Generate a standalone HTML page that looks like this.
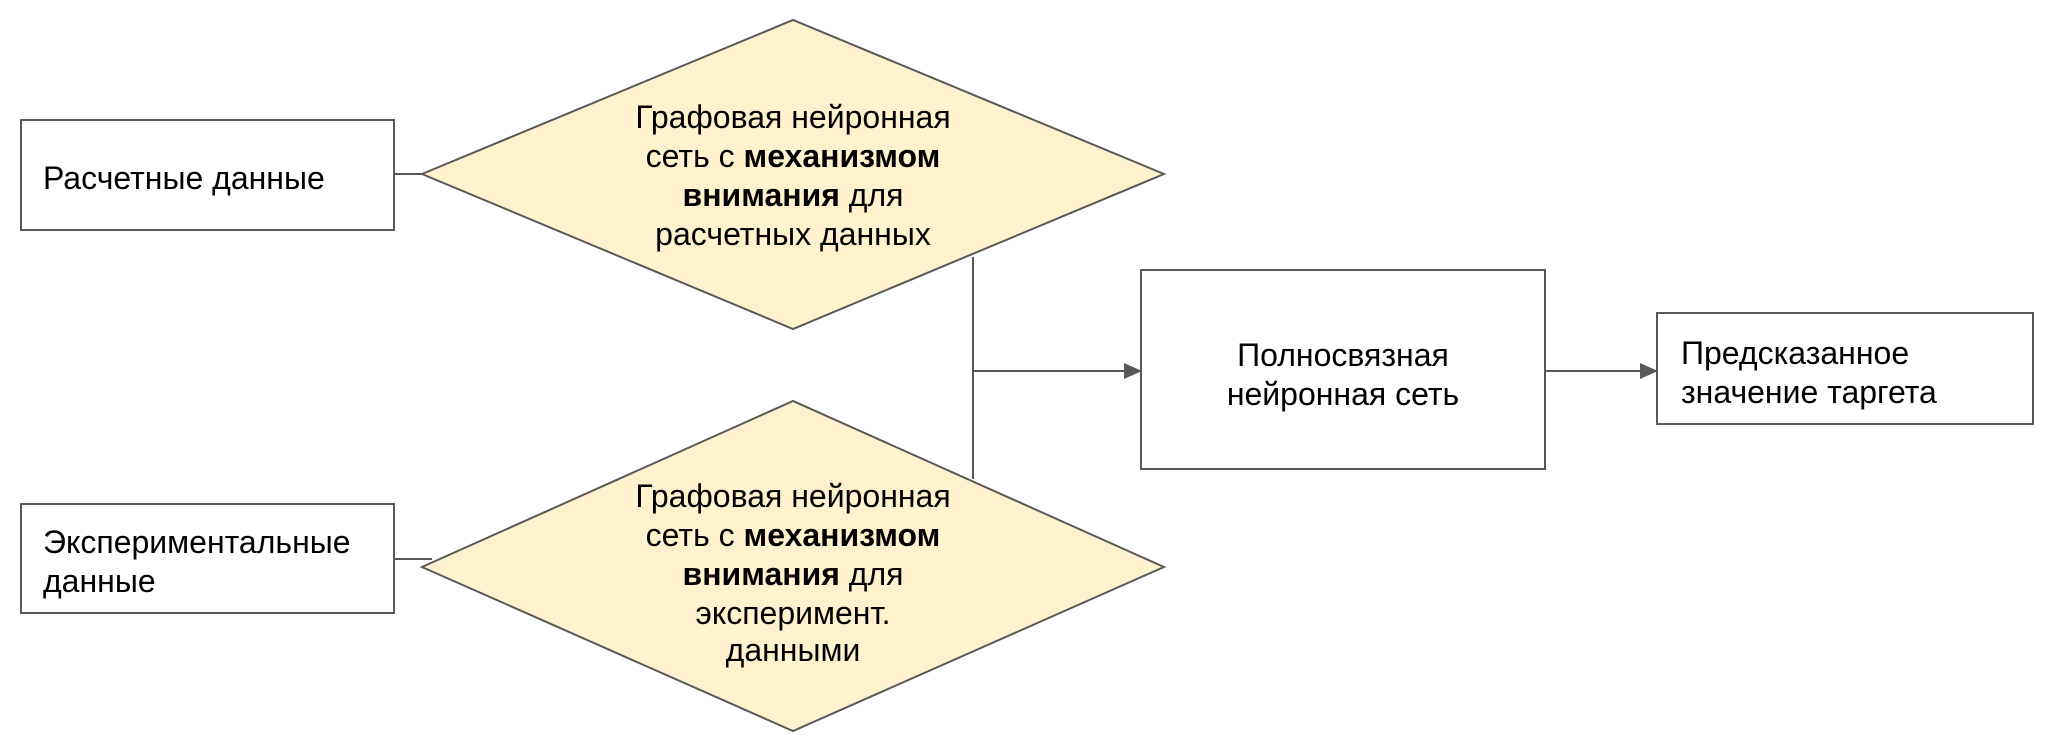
<!DOCTYPE html>
<html><head><meta charset="utf-8"><style>
html,body{margin:0;padding:0;background:#fff;}
svg{display:block;}
text{font-family:"Liberation Sans",Arial,sans-serif;font-size:32px;fill:#000;}
.b{font-weight:bold;}
</style></head><body>
<svg width="2048" height="751" viewBox="0 0 2048 751" xmlns="http://www.w3.org/2000/svg">
<defs>
<marker id="a2" markerWidth="18" markerHeight="16" refX="17" refY="8" orient="auto" markerUnits="userSpaceOnUse"><path d="M0,0 L18,8 L0,16 z" fill="#595959"/></marker></defs>
<g stroke="#595959" stroke-width="2" fill="none">
<line x1="394" y1="174" x2="422" y2="174"/>
<line x1="394" y1="559" x2="432" y2="559"/>
<line x1="973" y1="257" x2="973" y2="479"/>
<line x1="973" y1="371" x2="1141" y2="371" marker-end="url(#a2)"/>
<line x1="1545" y1="371" x2="1657" y2="371" marker-end="url(#a2)"/>
</g>
<g stroke="#595959" stroke-width="2">
<rect x="21" y="120" width="373" height="110" fill="#fff"/>
<rect x="21" y="504" width="373" height="109" fill="#fff"/>
<polygon points="422,174 793,20 1164,174 793,329" fill="#fff2cc"/>
<polygon points="422,567 793,401 1164,567 793,731" fill="#fff2cc"/>
<rect x="1141" y="270" width="404" height="199" fill="#fff"/>
<rect x="1657" y="313" width="376" height="111" fill="#fff"/>
</g>
<line x1="973" y1="401" x2="973" y2="479" stroke="#595959" stroke-width="2"/>
<text x="43" y="189">Расчетные данные</text>
<text x="43" y="553">Экспериментальные</text>
<text x="43" y="592">данные</text>
<g text-anchor="middle">
<text x="793" y="128">Графовая нейронная</text>
<text x="793" y="167">сеть с <tspan class="b">механизмом</tspan></text>
<text x="793" y="206"><tspan class="b">внимания</tspan> для</text>
<text x="793" y="245">расчетных данных</text>
<text x="793" y="507">Графовая нейронная</text>
<text x="793" y="546">сеть с <tspan class="b">механизмом</tspan></text>
<text x="793" y="585"><tspan class="b">внимания</tspan> для</text>
<text x="793" y="624">эксперимент.</text>
<text x="793" y="661">данными</text>
<text x="1343" y="366">Полносвязная</text>
<text x="1343" y="405">нейронная сеть</text>
</g>
<text x="1681" y="364">Предсказанное</text>
<text x="1681" y="403">значение таргета</text>
</svg>
</body></html>
